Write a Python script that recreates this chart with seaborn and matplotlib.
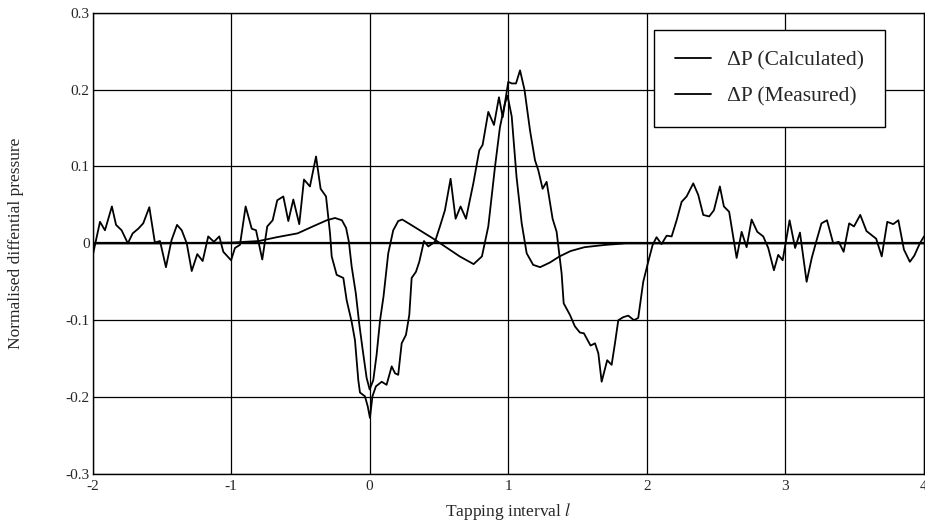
import numpy as np
import pandas as pd
import matplotlib
matplotlib.use("Agg")
import matplotlib.pyplot as plt
import seaborn as sns
from matplotlib.ticker import FuncFormatter

# ---- data ----
calc_x = [-2.0, -1.5, -1.0, -0.8, -0.67, -0.52, -0.41, -0.31, -0.25, -0.20, -0.17, -0.15,
          -0.13, -0.10, -0.075, -0.05, -0.022, 0.0, 0.026, 0.05, 0.075, 0.10, 0.134, 0.17,
          0.206, 0.235, 0.29, 0.46, 0.65, 0.75, 0.81, 0.856, 0.904, 0.94, 0.976, 0.995,
          1.025, 1.06, 1.097, 1.133, 1.18, 1.23, 1.30, 1.37, 1.45, 1.55, 1.70, 1.85, 2.0,
          3.0, 4.0]
calc_y = [0.0, 0.0, 0.001, 0.003, 0.008, 0.013, 0.022, 0.030, 0.033, 0.030, 0.020, 0.002,
          -0.030, -0.065, -0.105, -0.139, -0.175, -0.19, -0.178, -0.145, -0.100, -0.069,
          -0.013, 0.017, 0.029, 0.031, 0.025, 0.006, -0.017, -0.027, -0.017, 0.022, 0.099,
          0.151, 0.182, 0.192, 0.165, 0.086, 0.026, -0.013, -0.028, -0.031, -0.025, -0.017,
          -0.010, -0.005, -0.002, 0.0, 0.0, 0.0, 0.0]

meas_x = [-2.0, -1.946, -1.91, -1.86, -1.83, -1.79, -1.745, -1.71, -1.67, -1.634, -1.59,
          -1.55, -1.513, -1.47, -1.43, -1.39, -1.356, -1.32, -1.284, -1.244, -1.205, -1.165,
          -1.124, -1.085, -1.056, -1.0, -0.972, -0.936, -0.895, -0.851, -0.82, -0.775,
          -0.739, -0.70, -0.667, -0.623, -0.587, -0.551, -0.508, -0.474, -0.431, -0.387,
          -0.354, -0.315, -0.286, -0.274, -0.238, -0.19, -0.166, -0.13, -0.106, -0.082,
          -0.07, -0.034, -0.014, 0.002, 0.02, 0.045, 0.087, 0.122, 0.159, 0.183, 0.206,
          0.231, 0.262, 0.286, 0.303, 0.334, 0.358, 0.392, 0.423, 0.471, 0.507, 0.543,
          0.584, 0.62, 0.656, 0.695, 0.748, 0.791, 0.815, 0.856, 0.897, 0.933, 0.96, 1.0,
          1.025, 1.056, 1.085, 1.117, 1.157, 1.193, 1.217, 1.248, 1.277, 1.32, 1.349,
          1.385, 1.40, 1.445, 1.481, 1.517, 1.546, 1.594, 1.626, 1.65, 1.674, 1.714, 1.746,
          1.77, 1.794, 1.83, 1.866, 1.907, 1.938, 1.974, 2.01, 2.042, 2.07, 2.106, 2.143,
          2.179, 2.215, 2.251, 2.287, 2.335, 2.371, 2.407, 2.45, 2.484, 2.527, 2.556,
          2.594, 2.648, 2.684, 2.72, 2.756, 2.797, 2.84, 2.876, 2.917, 2.948, 2.98, 3.03,
          3.07, 3.105, 3.153, 3.19, 3.225, 3.26, 3.30, 3.345, 3.385, 3.42, 3.46, 3.495,
          3.54, 3.585, 3.655, 3.695, 3.735, 3.778, 3.815, 3.855, 3.898, 3.93, 3.97, 4.0]
meas_y = [-0.017, 0.028, 0.017, 0.048, 0.024, 0.017, 0.0, 0.013, 0.019, 0.026, 0.047,
          0.001, 0.003, -0.031, 0.004, 0.024, 0.017, 0.0, -0.036, -0.014, -0.023, 0.009,
          0.002, 0.009, -0.011, -0.022, -0.006, -0.002, 0.048, 0.019, 0.017, -0.021,
          0.022, 0.030, 0.056, 0.061, 0.029, 0.057, 0.025, 0.083, 0.074, 0.113,
          0.071, 0.061, 0.013, -0.017, -0.041, -0.045, -0.074, -0.102, -0.126, -0.178,
          -0.194, -0.199, -0.212, -0.227, -0.199, -0.186, -0.180, -0.184, -0.160, -0.169,
          -0.171, -0.130, -0.119, -0.093, -0.045, -0.037, -0.024, 0.003, -0.004, 0.002,
          0.022, 0.043, 0.084, 0.032, 0.048, 0.032, 0.078, 0.121, 0.128, 0.171, 0.154,
          0.190, 0.164, 0.21, 0.208, 0.208, 0.225, 0.200, 0.147, 0.108, 0.095, 0.071,
          0.080, 0.032, 0.015, -0.039, -0.078, -0.093, -0.108, -0.116, -0.117, -0.133,
          -0.130, -0.143, -0.180, -0.152, -0.158, -0.130, -0.100, -0.096, -0.094, -0.100,
          -0.097, -0.050, -0.024, -0.002, 0.008, -0.001, 0.010, 0.009, 0.030, 0.054,
          0.061, 0.078, 0.063, 0.037, 0.035, 0.043, 0.074, 0.048, 0.041, -0.019, 0.015,
          -0.005, 0.031, 0.015, 0.009, -0.006, -0.035, -0.015, -0.022, 0.030, -0.006,
          0.014, -0.050, -0.019, 0.004, 0.026, 0.030, 0.0, 0.002, -0.011, 0.026, 0.022,
          0.037, 0.016, 0.006, -0.017, 0.028, 0.025, 0.030, -0.008, -0.024, -0.016, 0.0,
          0.009]

x_ticks = [-2, -1, 0, 1, 2, 3, 4]
y_ticks = [-0.3, -0.2, -0.1, 0, 0.1, 0.2, 0.3]
labels = ["\u0394P (Calculated)", "\u0394P (Measured)"]

# ---- style ----
sns.set_style("white")
plt.rcParams["font.family"] = ["Liberation Serif", "DejaVu Serif"]
plt.rcParams["axes.unicode_minus"] = False
plt.rcParams["mathtext.fontset"] = "stix"

fig = plt.figure(figsize=(9.25, 5.32), dpi=100)
ax = fig.add_axes([92.5 / 925, (532 - 474) / 532, (924 - 92.5) / 925, (474 - 12.7) / 532])

calc_df = pd.DataFrame({"x": calc_x, "y": calc_y})
meas_df = pd.DataFrame({"x": meas_x, "y": meas_y})
sns.lineplot(data=calc_df, x="x", y="y", ax=ax, color="black", lw=1.3, sort=False,
             label=labels[0], zorder=3)
sns.lineplot(data=meas_df, x="x", y="y", ax=ax, color="black", lw=1.3, sort=False,
             label=labels[1], zorder=3)

ax.set_xlim(-2, 4)
ax.set_ylim(-0.3, 0.3)
ax.set_xticks(x_ticks)
ax.set_yticks(y_ticks)

def fmt(v, pos):
    if abs(v) < 1e-9:
        return "0"
    return "%g" % v

ax.xaxis.set_major_formatter(FuncFormatter(fmt))
ax.yaxis.set_major_formatter(FuncFormatter(fmt))
ax.tick_params(axis="both", length=0, labelsize=11)
ax.tick_params(axis="x", pad=4)
ax.tick_params(axis="y", pad=2)
ax.grid(True, color="black", lw=0.9)
ax.axhline(0, color="black", lw=1.6, zorder=2)
for s in ax.spines.values():
    s.set_color("black")
    s.set_linewidth(1.0)

ax.set_xlabel("Tapping interval $\\mathit{l}$", fontsize=12.5, labelpad=6)
ax.set_ylabel("Normalised diffential pressure", fontsize=12.5, labelpad=30)

leg = ax.legend(loc="upper right", bbox_to_anchor=(0.953, 0.9625), borderaxespad=0,
                frameon=True, fancybox=False, framealpha=1, edgecolor="black",
                fontsize=15.5, handlelength=1.7, handletextpad=0.75, borderpad=0.95,
                labelspacing=0.75)
leg.get_frame().set_linewidth(1.0)

fig.savefig("out.png", dpi=100)
